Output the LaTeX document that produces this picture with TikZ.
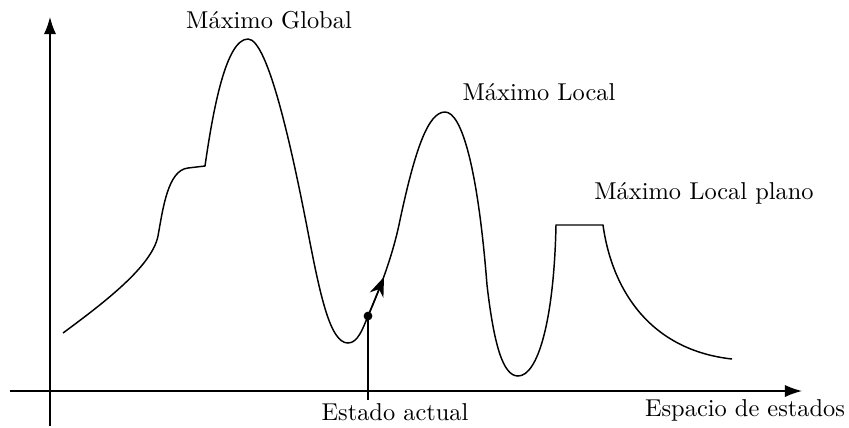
\documentclass[tikz,border=0pt]{standalone}
\usepackage{fontspec}
\usepackage{tikz}
\usetikzlibrary{arrows.meta, positioning}

\begin{document}
\begin{tikzpicture}[
        x=0.0144cm, y=-0.0144cm,
        axis/.style={semithick, -{Latex[length=7pt, width=5pt]}},
        curve/.style={semithick, line join=miter},
        lbl/.style={font=\normalsize, inner sep=1pt},
        statedot/.style={circle, fill=black, inner sep=0pt, minimum size=3.6pt},
        move/.style={semithick, -{Stealth[length=8pt, width=6pt]}}
    ]
    \useasboundingbox (0,0) rectangle (849,427);

    % --- Axes ---
    \coordinate (ybot) at (50,426);
    \coordinate (ytop) at (50,17);
    \coordinate (xleft) at (10,391);
    \coordinate (xright) at (802,391);
    \draw[axis] (ybot) -- (ytop);
    \draw[axis] (xleft) -- (xright);
    \node[lbl] (xlbl) at (745,410) {Espacio de estados};

    % --- Landscape ---
    \draw[curve] (63,333) .. controls (105,302) and (152,266) .. (158,236)
        .. controls (163,208) and (168,170) .. (188,168) -- (205,166)
        .. controls (213,110) and (226,39) .. (248,39)
        .. controls (268,39) and (292,150) .. (307,227)
        .. controls (320,295) and (330,343) .. (348,343)
        .. controls (358,343) and (363,328) .. (368,316)
        .. controls (376,298) and (392,260) .. (400,220)
        .. controls (415,150) and (428,112) .. (445,112)
        .. controls (462,112) and (478,170) .. (487,285)
        .. controls (494,345) and (503,376) .. (518,376)
        .. controls (538,376) and (554,320) .. (556,225)
        -- (603,225)
        .. controls (612,290) and (650,350) .. (732,359);

    % --- Labels of the maxima ---
    \node[lbl] (globallbl) at (269,20) {Máximo Global};
    \node[lbl] (locallbl) at (539,92) {Máximo Local};
    \node[lbl] (planolbl) at (704,193) {Máximo Local plano};

    % --- Current state ---
    \node[statedot] (current) at (368,316) {};
    \coordinate (nextstep) at (384,277);
    \node[lbl] (currentlbl) at (395,412) {Estado actual};
    \draw[move] (current.center) -- (nextstep);
    \draw[semithick] (current.center) -- (current.center |- currentlbl.north);
\end{tikzpicture}
\end{document}
